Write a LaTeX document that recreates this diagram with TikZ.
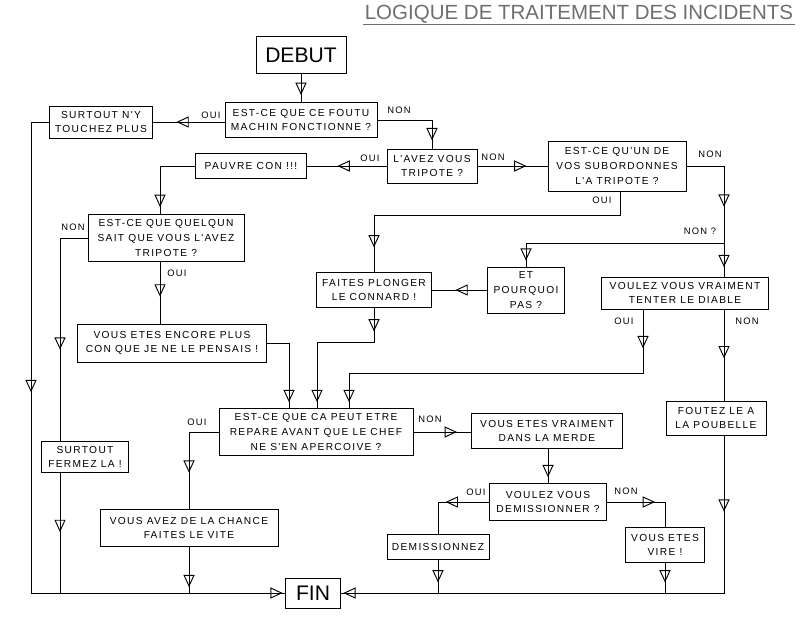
\documentclass[tikz,border=0pt]{standalone}
\usepackage{fontspec}
\setmainfont{Liberation Sans}
\newfontfamily\boxfont[LetterSpace=13]{Liberation Sans}
\usepackage{xcolor}
\usetikzlibrary{arrows.meta, decorations.markings}
\definecolor{titlegray}{RGB}{110,110,110}

\begin{document}
\begin{tikzpicture}[x=0.03cm, y=-0.03cm, line width=0.85pt,
  box/.style={draw, align=center, inner sep=1pt,
    font=\boxfont\fontsize{8.7}{12.5}\selectfont},
  bigbox/.style={draw, inner sep=1pt, font=\fontsize{18}{20}\selectfont},
  sz/.style 2 args={minimum width=#1*0.03cm, minimum height=#2*0.03cm},
  lbl/.style={font=\boxfont\fontsize{8}{10}\selectfont, inner sep=0pt},
  flow/.style={postaction={decorate, decoration={markings,
      mark=at position #1 with {\arrow[line width=0.8pt]{Triangle[open, length=10.5pt, width=9.5pt]}}}}},
  flow/.default=-6pt]
\useasboundingbox (0,0) rectangle (800,621);

% title
\node[font=\fontsize{17.5}{20}\selectfont, text=titlegray, inner sep=1pt] (titre) at (579,14)
  {LOGIQUE DE TRAITEMENT DES INCIDENTS};
\draw[titlegray, line width=0.6pt] (titre.south west) -- (titre.south east);

% boxes
\node[bigbox, sz={90}{36}] (debut) at (301,55) {DEBUT};
\node[box, sz={152}{35}] (q1) at (301,120) {EST-CE QUE CE FOUTU\\MACHIN FONCTIONNE ?};
\node[box, sz={103}{32}] (touchez) at (101,122) {SURTOUT N'Y\\TOUCHEZ PLUS};
\node[box, sz={90}{34}] (tripote) at (432,166) {L'AVEZ VOUS\\TRIPOTE ?};
\node[box, sz={111}{25}] (pauvre) at (251,166) {PAUVRE CON !!!};
\node[box, sz={138}{50}] (subord) at (617,166) {EST-CE QU'UN DE\\VOS SUBORDONNES\\L'A TRIPOTE ?};
\node[box, sz={156}{47}] (q3) at (166,238) {EST-CE QUE QUELQUN\\SAIT QUE VOUS L'AVEZ\\TRIPOTE ?};
\node[box, sz={189}{38}] (encore) at (172,343) {VOUS ETES ENCORE PLUS\\CON QUE JE NE LE PENSAIS !};
\node[box, sz={115}{35}] (plonger) at (374,290) {FAITES PLONGER\\LE CONNARD !};
\node[box, sz={77}{46}] (pourquoi) at (526,290) {ET\\POURQUOI\\PAS ?};
\node[box, sz={167}{32}] (diable) at (685,293) {VOULEZ VOUS VRAIMENT\\TENTER LE DIABLE};
\node[box, sz={194}{47}] (repare) at (316,432) {EST-CE QUE CA PEUT ETRE\\REPARE AVANT QUE LE CHEF\\NE S'EN APERCOIVE ?};
\node[box, sz={151}{35}] (merde) at (547,431) {VOUS ETES VRAIMENT\\DANS LA MERDE};
\node[box, sz={87}{31}] (fermez) at (85,457) {SURTOUT\\FERMEZ LA !};
\node[box, sz={100}{34}] (poubelle) at (716,418) {FOUTEZ LE A\\LA POUBELLE};
\node[box, sz={178}{37}] (chance) at (189,528) {VOUS AVEZ DE LA CHANCE\\FAITES LE VITE};
\node[box, sz={117}{37}] (demission) at (548,502) {VOULEZ VOUS\\DEMISSIONNER ?};
\node[box, sz={102}{25}] (demissionnez) at (438,547) {DEMISSIONNEZ};
\node[box, sz={79}{35}] (vire) at (665,545) {VOUS ETES\\VIRE !};
\node[bigbox, sz={55}{30}] (fin) at (313,593) {FIN};

% bends
\coordinate (bl) at (31,593);
\coordinate (br) at (724,593);
\coordinate (nonq) at (724,243);
\coordinate (ouis) at (620,215);
\coordinate (cq3) at (160,0);
\coordinate (cf) at (60,0);
\coordinate (c1) at (289,0);
\coordinate (c2) at (317,342);
\coordinate (c3) at (349,373);
\coordinate (c4) at (643,373);

% connectors
\draw[flow] (debut) -- (q1);
\draw[flow=-20pt] (q1.west |- touchez) -- (touchez.east);
\draw[flow=-7pt] (q1.east) -| (tripote.north);
\draw[flow=-26pt] (tripote.west) -- (pauvre.east);
\draw[flow=-18pt] (tripote.east) -- (subord.west);
\draw[flow=-31pt] (subord.east) -| (nonq);
\draw[flow=-8pt] (nonq) -- (nonq |- diable.north);
\draw[flow=-5pt] (nonq) -| (pourquoi.north);
\draw[flow=-21pt] (subord.south -| ouis) -- (ouis) -| (plonger.north);
\draw[flow=-20pt] (pourquoi.west) -- (plonger.east);
\draw[flow] (pauvre.west) -| (q3.north -| cq3);
\draw[flow=-78pt] (q3.west) -| (fermez.north -| cf);
\draw[flow=-23pt] (q3.south -| cq3) -- (encore.north -| cq3);
\draw[flow=-5pt] (encore.east) -| (repare.north -| c1);
\draw[flow=20pt, flow=-5pt] (plonger.south) |- (c2) -- (c2 |- repare.north);
\draw[flow=33pt, flow=-5pt] (diable.south -| c4) -- (c4) -- (c3) -- (c3 |- repare.north);
\draw[flow=-36pt] (diable.south -| br) -- (br |- poubelle.north);
\draw[flow=65pt, flow=-2pt] (poubelle.south -| br) -- (br) -- (fin.east |- br);
\draw[flow=246pt, flow=-2pt] (touchez.west) -| (bl) -- (fin.west |- bl);
\draw[flow=-52pt] (fermez.south -| cf) -- (cf |- bl);
\draw[flow=-31pt] (repare.west) -| (chance.north);
\draw[flow=-5pt] (chance.south) -- (chance.south |- bl);
\draw[flow=-12pt] (repare.east) -- (merde.west |- repare.east);
\draw[flow=-5pt] (merde.south -| demission.north) -- (demission.north);
\draw[flow=37pt] (demission.west) -| (demissionnez.north);
\draw[flow=41pt] (demission.east) -| (vire.north);
\draw[flow=-9pt] (demissionnez.south) -- (demissionnez.south |- bl);
\draw[flow=-9pt] (vire.south) -- (vire.south |- br);

% labels
\node[lbl] (l1) at (211,115) {OUI};
\node[lbl] (l2) at (399,110) {NON};
\node[lbl] (l3) at (370,158) {OUI};
\node[lbl] (l4) at (493,157) {NON};
\node[lbl] (l5) at (710,154) {NON};
\node[lbl] (l6) at (602,200) {OUI};
\node[lbl] (l7) at (700,231) {NON ?};
\node[lbl] (l8) at (73,227) {NON};
\node[lbl] (l9) at (177,273) {OUI};
\node[lbl] (l10) at (624,321) {OUI};
\node[lbl] (l11) at (747,321) {NON};
\node[lbl] (l12) at (197,422) {OUI};
\node[lbl] (l13) at (430,419) {NON};
\node[lbl] (l14) at (476,492) {OUI};
\node[lbl] (l15) at (626,491) {NON};
\end{tikzpicture}
\end{document}
